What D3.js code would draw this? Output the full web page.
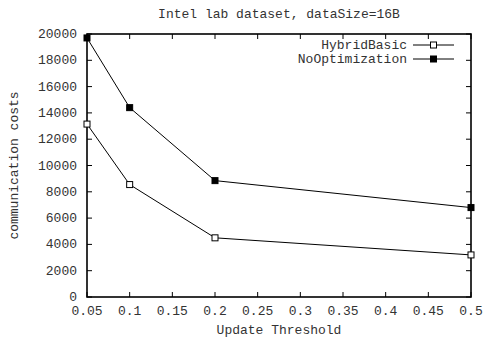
<!DOCTYPE html>
<html>
<head>
<meta charset="utf-8">
<script src="https://cdn.jsdelivr.net/npm/d3@7"></script>
<style>
  body { margin: 0; background: #fff; }
  text { font-family: "Courier New", Courier, "Liberation Mono", monospace; fill: #333; }
</style>
</head>
<body>
<div id="chart"></div>
<script>
// data
var thresholds = [0.05, 0.1, 0.2, 0.5];
var hybridBasic = [13150, 8550, 4500, 3200];
var noOptimization = [19700, 14400, 8850, 6800];
var seriesNames = ['HybridBasic', 'NoOptimization'];
var xTicks = [0.05, 0.1, 0.15, 0.2, 0.25, 0.3, 0.35, 0.4, 0.45, 0.5];
var yTicks = [0, 2000, 4000, 6000, 8000, 10000, 12000, 14000, 16000, 18000, 20000];

var width = 489, height = 337;
var margin = {top: 34, right: 18, bottom: 40, left: 87};

var svg = d3.select('#chart').append('svg')
    .attr('width', width)
    .attr('height', height);

var xScale = d3.scaleLinear().domain([0.05, 0.5]).range([margin.left, width - margin.right]);
var yScale = d3.scaleLinear().domain([0, 20000]).range([height - margin.bottom, margin.top]);

var tickLen = 5;
var fs = '13px';

// ticks (inward, mirrored)
var ticks_g = svg.append('g').attr('stroke', 'black').attr('stroke-width', 1);
xTicks.forEach(function(t){
    ticks_g.append('line')
        .attr('x1', xScale(t)).attr('x2', xScale(t))
        .attr('y1', yScale(0)).attr('y2', yScale(0) - tickLen);
    ticks_g.append('line')
        .attr('x1', xScale(t)).attr('x2', xScale(t))
        .attr('y1', yScale(20000)).attr('y2', yScale(20000) + tickLen);
    svg.append('text')
        .attr('x', xScale(t)).attr('y', yScale(0) + 18)
        .attr('text-anchor', 'middle')
        .style('font-size', fs)
        .text(t);
});
yTicks.forEach(function(t){
    ticks_g.append('line')
        .attr('x1', xScale(0.05)).attr('x2', xScale(0.05) + tickLen)
        .attr('y1', yScale(t)).attr('y2', yScale(t));
    ticks_g.append('line')
        .attr('x1', xScale(0.5)).attr('x2', xScale(0.5) - tickLen)
        .attr('y1', yScale(t)).attr('y2', yScale(t));
    svg.append('text')
        .attr('x', xScale(0.05) - 10).attr('y', yScale(t) + 4)
        .attr('text-anchor', 'end')
        .style('font-size', fs)
        .text(t);
});

// frame
svg.append('rect')
    .attr('x', xScale(0.05)).attr('y', yScale(20000))
    .attr('width', xScale(0.5) - xScale(0.05))
    .attr('height', yScale(0) - yScale(20000))
    .attr('fill', 'none')
    .attr('stroke', 'black')
    .attr('stroke-width', 1.6);

// lines
var line = d3.line()
    .x(function(d){ return xScale(d[0]); })
    .y(function(d){ return yScale(d[1]); });

var series = [
    {name: seriesNames[0], values: hybridBasic, fill: 'white'},
    {name: seriesNames[1], values: noOptimization, fill: 'black'}
];

var ms = 6;
series.forEach(function(s, i){
    var pts = thresholds.map(function(t, j){ return [t, s.values[j]]; });
    svg.append('path')
        .datum(pts)
        .attr('d', line)
        .attr('fill', 'none')
        .attr('stroke', 'black')
        .attr('stroke-width', 1);
    svg.selectAll('.m' + i).data(pts).enter().append('rect')
        .attr('x', function(d){ return xScale(d[0]) - ms / 2; })
        .attr('y', function(d){ return yScale(d[1]) - ms / 2; })
        .attr('width', ms).attr('height', ms)
        .attr('fill', s.fill)
        .attr('stroke', 'black')
        .attr('stroke-width', 1);

    // legend
    var ly = 45 + i * 14;
    svg.append('text')
        .attr('x', 407).attr('y', ly + 4)
        .attr('text-anchor', 'end')
        .style('font-size', fs)
        .text(s.name);
    svg.append('line')
        .attr('x1', 413).attr('x2', 454)
        .attr('y1', ly).attr('y2', ly)
        .attr('stroke', 'black');
    svg.append('rect')
        .attr('x', 433.5 - ms / 2).attr('y', ly - ms / 2)
        .attr('width', ms).attr('height', ms)
        .attr('fill', s.fill)
        .attr('stroke', 'black');
});

// title and labels
svg.append('text')
    .attr('x', 279).attr('y', 18)
    .attr('text-anchor', 'middle')
    .style('font-size', fs)
    .text('Intel lab dataset, dataSize=16B');

svg.append('text')
    .attr('x', 279).attr('y', 334)
    .attr('text-anchor', 'middle')
    .style('font-size', fs)
    .text('Update Threshold');

svg.append('text')
    .attr('transform', 'translate(18,' + (yScale(10000)) + ') rotate(-90)')
    .attr('text-anchor', 'middle')
    .style('font-size', fs)
    .text('communication costs');
</script>
</body>
</html>
